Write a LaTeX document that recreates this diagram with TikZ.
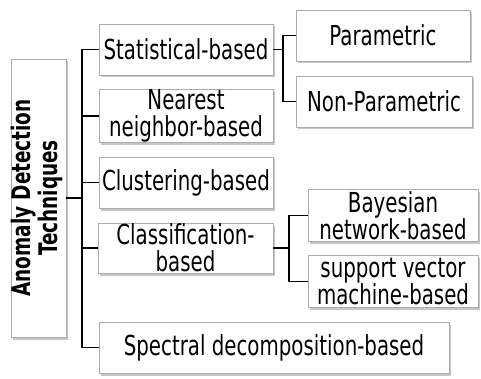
\documentclass[tikz,border=0pt]{standalone}
\usepackage{fontspec}
\setmainfont{DejaVu Sans}[FakeStretch=0.72]
\usetikzlibrary{shadows}
\begin{document}
\begin{tikzpicture}[x=1pt,y=-1pt,
  box/.style={draw=gray!65, line width=0.8pt, fill=white, inner sep=0pt,
    align=center, font=\fontsize{27.5pt}{27pt}\selectfont,
    drop shadow={shadow xshift=2pt, shadow yshift=-2.5pt, fill=gray!45, opacity=1}},
  conn/.style={draw=black, line width=1.6pt}]
\useasboundingbox[fill=white] (0,0) rectangle (481,379);
% root
\node[box, minimum width=53pt, minimum height=278pt] (root) at (38.5,198)
  {\rotatebox{90}{\fontsize{25.6pt}{27pt}\selectfont\bfseries
   \begin{tabular}{@{}c@{}}Anomaly Detection\\Techniques\end{tabular}}};
% level 1
\node[box, minimum width=174pt, minimum height=51pt] (stat) at (186,49.5) {Statistical-based};
\node[box, minimum width=174pt, minimum height=52pt] (near) at (186,116) {Nearest\\neighbor-based};
\node[box, minimum width=174pt, minimum height=51pt] (clus) at (186,182.5) {Clustering-based};
\node[box, minimum width=175pt, minimum height=50pt] (class) at (185.5,248) {Classification-\\based};
\node[box, minimum width=350pt, minimum height=51pt] (spec) at (274,347.5) {Spectral decomposition-based};
% level 2
\node[box, minimum width=174pt, minimum height=51pt] (param) at (383,35.5) {Parametric};
\node[box, minimum width=176pt, minimum height=51pt] (nonparam) at (384,101.5) {Non-Parametric};
\node[box, minimum width=170pt, minimum height=52pt] (bayes) at (393,215.5) {Bayesian\\network-based};
\node[box, minimum width=170pt, minimum height=52pt] (svm) at (393,281.5) {support vector\\machine-based};
% connectors
\coordinate (t) at (82,0);
\coordinate (s1) at (283,0);
\coordinate (s2) at (289,0);
\draw[conn] (root.east) -- (root.east -| t);
\draw[conn] (stat.west) -- (stat.west -| t) -- (spec.west -| t) -- (spec.west);
\draw[conn] (near.west -| t) -- (near.west);
\draw[conn] (clus.west -| t) -- (clus.west);
\draw[conn] (class.west -| t) -- (class.west);
\draw[conn] (stat.east) -- (stat.east -| s1);
\draw[conn] (param.west) -- (param.west -| s1) -- (nonparam.west -| s1) -- (nonparam.west);
\draw[conn] (class.east) -- (class.east -| s2);
\draw[conn] (bayes.west) -- (bayes.west -| s2) -- (svm.west -| s2) -- (svm.west);
\end{tikzpicture}
\end{document}
